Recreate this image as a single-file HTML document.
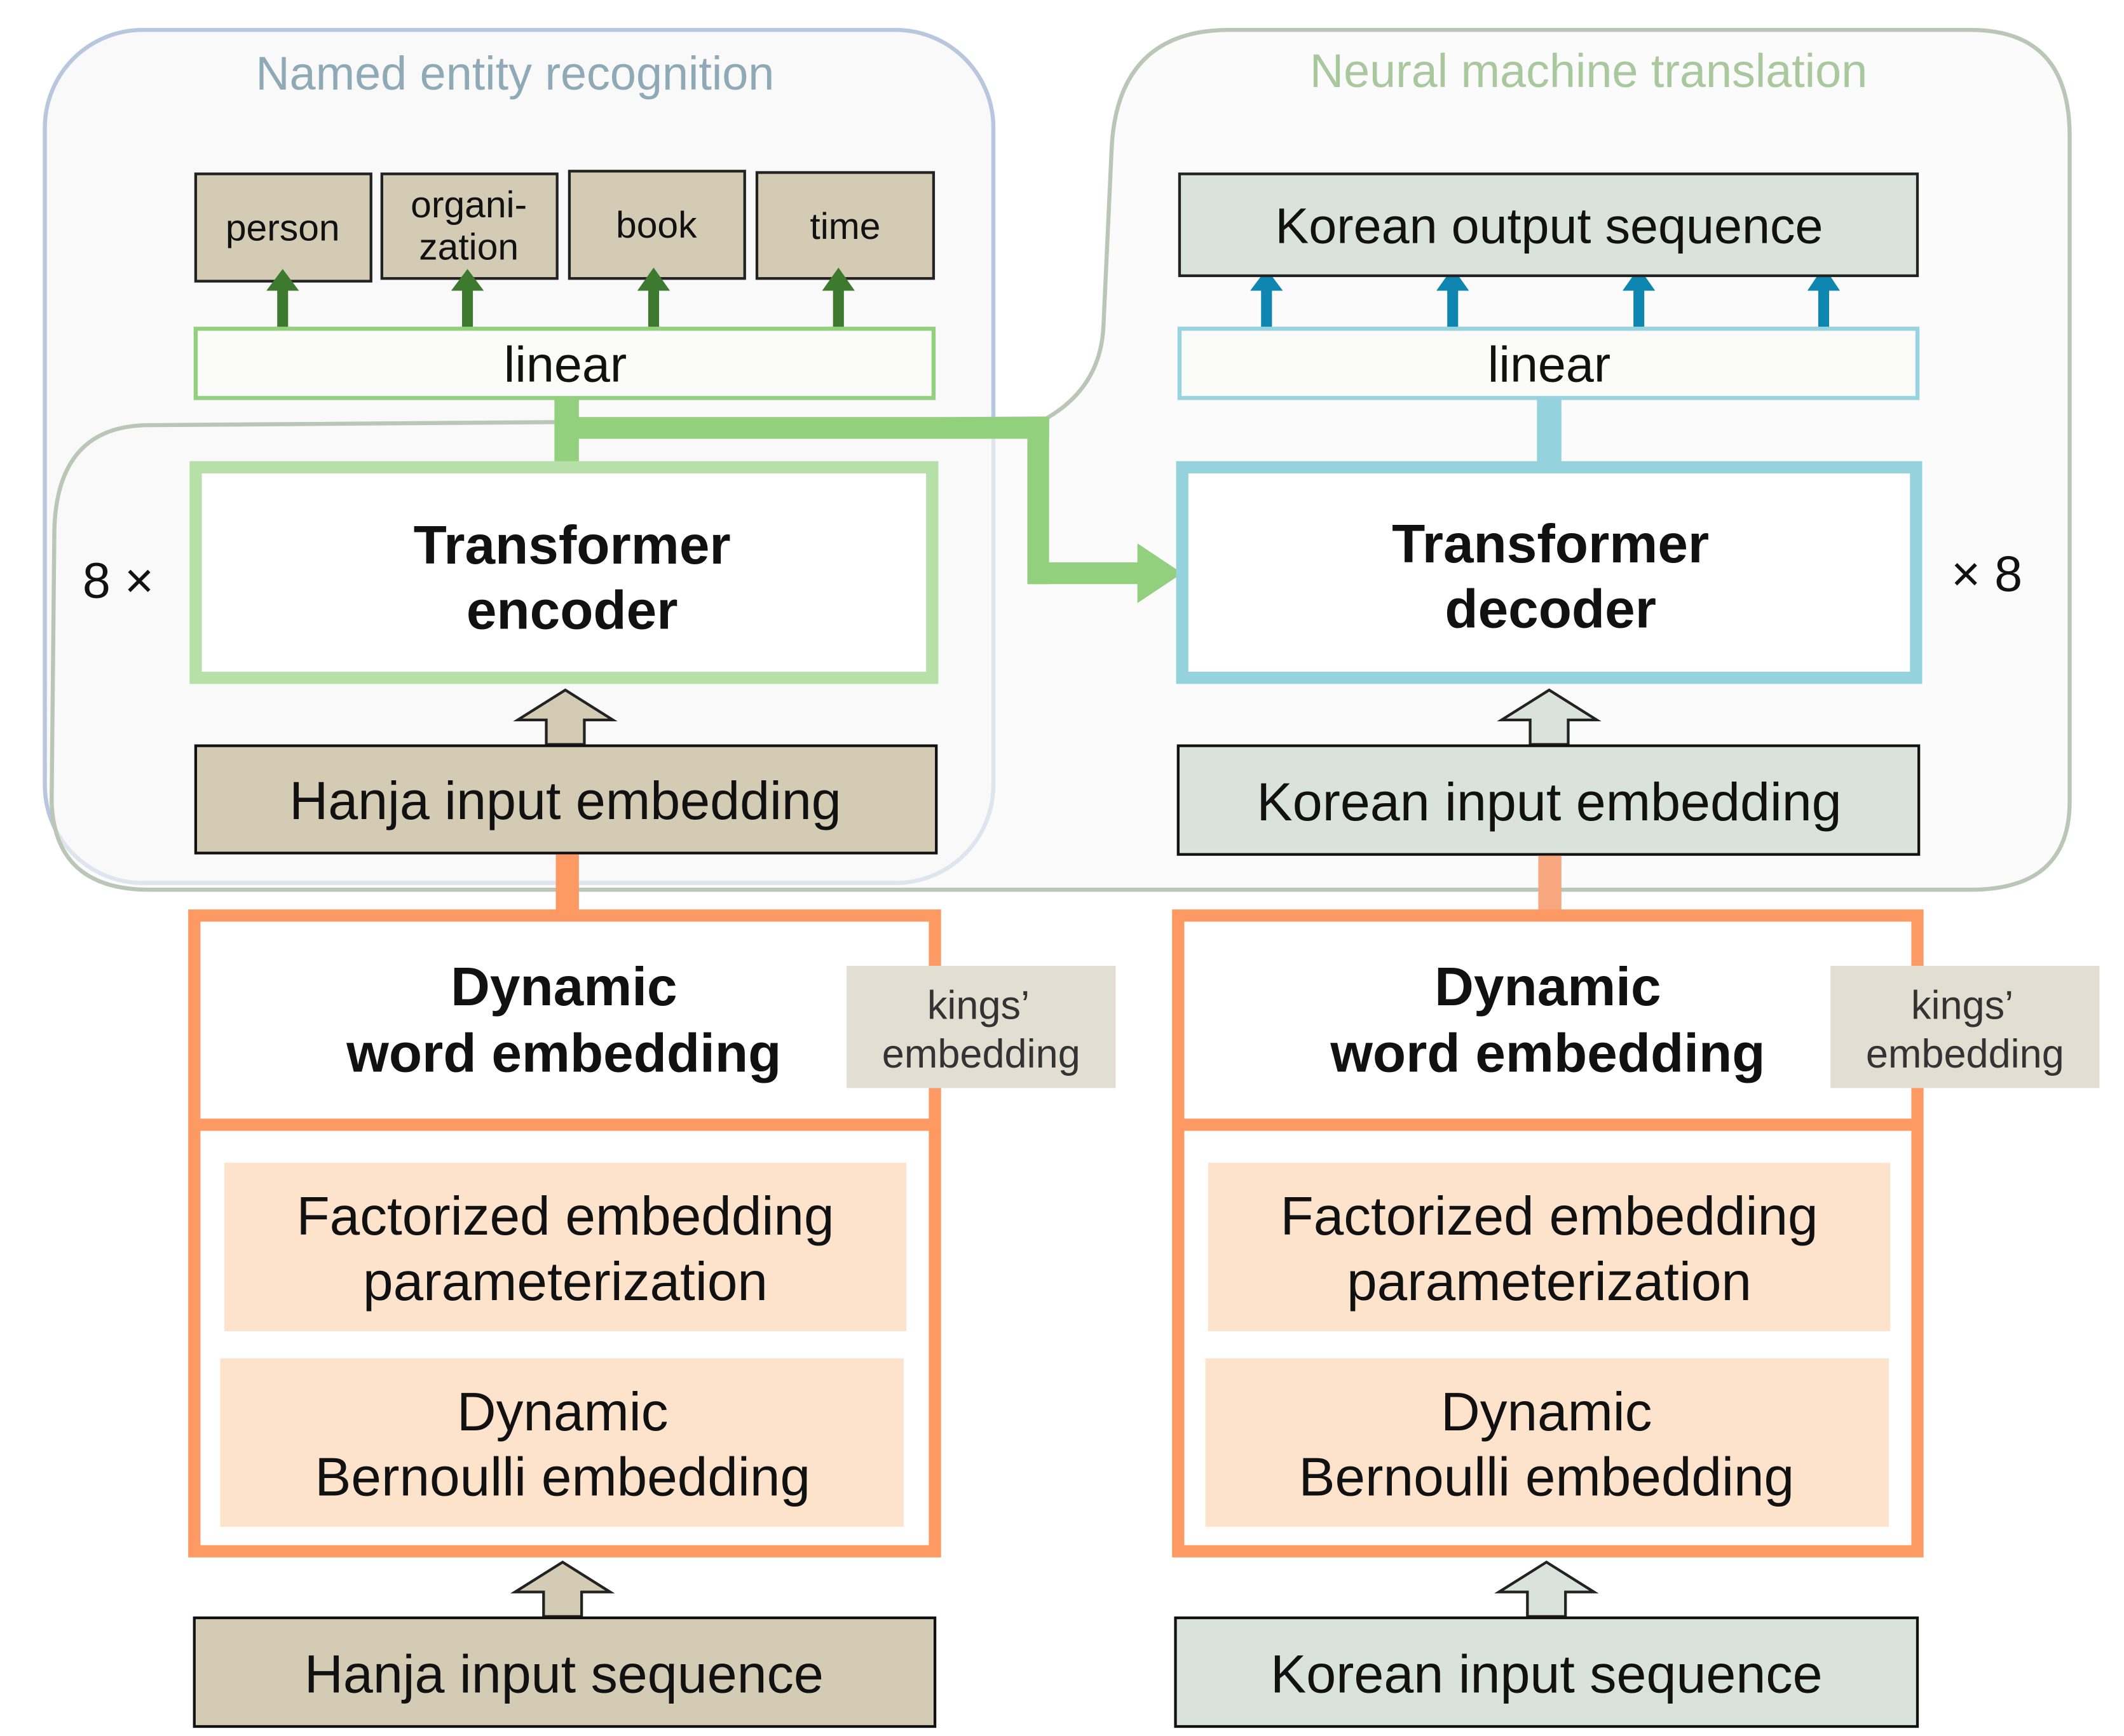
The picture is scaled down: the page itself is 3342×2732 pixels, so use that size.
<!DOCTYPE html>
<html><head><meta charset="utf-8"><style>html,body{margin:0;padding:0;background:#fff}svg{display:block}</style></head>
<body>
<svg width="3342" height="2732" viewBox="0 0 1563 1278" preserveAspectRatio="none" xmlns="http://www.w3.org/2000/svg" font-family="Liberation Sans, Arial, sans-serif">
<rect x="33" y="22" width="698" height="628" rx="72" fill="#f9f9f9" stroke="#b9c7de" stroke-width="3"/>
<path d="M38,590 L40,390 Q42,313 110,313 L770,308 Q810,285 812,240 L818,110 Q822,22 905,22 L1450,22 Q1523,22 1523,100 L1523,590 Q1523,655 1450,655 L110,655 Q40,655 38,590 Z" fill="#f9f9f9" fill-opacity="0.6" stroke="#bac6b6" stroke-width="3"/>
<text x="379" y="66" font-size="34.5" fill="#8faab6" text-anchor="middle">Named entity recognition</text>
<text x="1169" y="64" font-size="34.5" fill="#a9c89d" text-anchor="middle">Neural machine translation</text>

<g fill="#d4cbb5" stroke="#222" stroke-width="2">
<rect x="144" y="128" width="129" height="79"/><rect x="281" y="128" width="129" height="77"/>
<rect x="419" y="126" width="129" height="79"/><rect x="557" y="127" width="130" height="78"/>
</g>
<g font-size="27.5" text-anchor="middle" fill="#111">
<text x="208" y="177">person</text><text x="345" y="160">organi-</text><text x="345" y="191">zation</text>
<text x="483" y="175">book</text><text x="622" y="176">time</text>
</g>
<g fill="#3d7a2f">
<rect x="204" y="212" width="8" height="30"/><polygon points="196,214 208,198 220,214"/>
<rect x="340" y="212" width="8" height="30"/><polygon points="332,214 344,198 356,214"/>
<rect x="477" y="212" width="8" height="30"/><polygon points="469,214 481,197 493,214"/>
<rect x="613" y="212" width="8" height="30"/><polygon points="605,214 617,197 629,214"/>
</g>
<g fill="#0e86b0">
<rect x="928" y="212" width="8" height="30"/><polygon points="920,214 932,198 944,214"/>
<rect x="1065" y="212" width="8" height="30"/><polygon points="1057,214 1069,197 1081,214"/>
<rect x="1202" y="212" width="8" height="30"/><polygon points="1194,214 1206,197 1218,214"/>
<rect x="1338" y="212" width="8" height="30"/><polygon points="1330,214 1342,196 1354,214"/>
</g>
<rect x="144" y="242" width="543" height="51" fill="#fbfbf9" stroke="#93d07e" stroke-width="3"/>
<text x="416" y="281" font-size="37" text-anchor="middle" fill="#111">linear</text>
<rect x="868" y="242" width="543" height="51" fill="#fbfbf9" stroke="#9ad3e0" stroke-width="3"/>
<text x="1140" y="281" font-size="37" text-anchor="middle" fill="#111">linear</text>

<rect x="1131" y="294" width="18" height="48" fill="#94d3de"/>
<g fill="#93d07e">
<rect x="408" y="294" width="18" height="48"/>
<rect x="417" y="307" width="355" height="16"/>
<rect x="756" y="307" width="16" height="123"/>
<rect x="756" y="414" width="84" height="16"/>
<polygon points="837,400 870,422 837,444"/>
</g>
<rect x="144" y="344" width="542" height="155" fill="#fff" stroke="#b7e0a8" stroke-width="9"/>
<text x="421" y="415" font-size="40" font-weight="bold" text-anchor="middle" fill="#111">Transformer</text>
<text x="421" y="463" font-size="40" font-weight="bold" text-anchor="middle" fill="#111">encoder</text>
<text x="87" y="440" font-size="37" text-anchor="middle" fill="#111">8 ×</text>
<rect x="870" y="344" width="540" height="155" fill="#fff" stroke="#94d3de" stroke-width="9"/>
<text x="1141" y="414" font-size="40" font-weight="bold" text-anchor="middle" fill="#111">Transformer</text>
<text x="1141" y="462" font-size="40" font-weight="bold" text-anchor="middle" fill="#111">decoder</text>
<text x="1462" y="435" font-size="37" text-anchor="middle" fill="#111">× 8</text>

<polygon points="402,548 402,530 381,530 416,508 451,530 430,530 430,548" fill="#d4cbb5" stroke="#222" stroke-width="2"/>
<polygon points="1126,548 1126,530 1105,530 1140,508 1175,530 1154,530 1154,548" fill="#d9e2dc" stroke="#222" stroke-width="2"/>
<rect x="144" y="549" width="545" height="79" fill="#d4cbb5" stroke="#111" stroke-width="2"/>
<text x="416" y="603" font-size="39.5" text-anchor="middle" fill="#111">Hanja input embedding</text>
<rect x="867" y="549" width="545" height="80" fill="#d9e2dc" stroke="#111" stroke-width="2"/>
<text x="1140" y="604" font-size="39.5" text-anchor="middle" fill="#111">Korean input embedding</text>

<rect x="409" y="629" width="17" height="42" fill="#fd9a64"/>
<rect x="1132" y="630" width="17" height="41" fill="#f9a77f"/>

<g fill="#fff" stroke="#fd9a64" stroke-width="9">
<rect x="143" y="674" width="545" height="468"/><rect x="867" y="674" width="544" height="468"/>
</g>
<line x1="143" y1="828" x2="688" y2="828" stroke="#fd9a64" stroke-width="9"/>
<line x1="867" y1="828" x2="1411" y2="828" stroke="#fd9a64" stroke-width="9"/>
<g font-size="40" font-weight="bold" text-anchor="middle" fill="#111">
<text x="415" y="740">Dynamic</text><text x="415" y="789">word embedding</text>
<text x="1139" y="740">Dynamic</text><text x="1139" y="789">word embedding</text>
</g>
<rect x="623" y="711" width="198" height="90" fill="#e3ded2"/>
<rect x="1347" y="711" width="198" height="90" fill="#e3ded2"/>
<g font-size="29.5" text-anchor="middle" fill="#333">
<text x="720" y="750">kings’</text><text x="722" y="786">embedding</text>
<text x="1444" y="750">kings’</text><text x="1446" y="786">embedding</text>
</g>
<g fill="#fde3cc">
<rect x="165" y="856" width="502" height="124"/><rect x="162" y="1000" width="503" height="124"/>
<rect x="889" y="856" width="502" height="124"/><rect x="887" y="1000" width="503" height="124"/>
</g>
<g font-size="40" text-anchor="middle" fill="#111">
<text x="416" y="909">Factorized embedding</text><text x="416" y="957">parameterization</text>
<text x="414" y="1053">Dynamic</text><text x="414" y="1101">Bernoulli embedding</text>
<text x="1140" y="909">Factorized embedding</text><text x="1140" y="957">parameterization</text>
<text x="1138" y="1053">Dynamic</text><text x="1138" y="1101">Bernoulli embedding</text>
</g>
<polygon points="400,1190 400,1172 379,1172 414,1150 449,1172 428,1172 428,1190" fill="#d4cbb5" stroke="#222" stroke-width="2"/>
<polygon points="1124,1190 1124,1172 1103,1172 1138,1150 1173,1172 1152,1172 1152,1190" fill="#d9e2dc" stroke="#222" stroke-width="2"/>
<rect x="143" y="1191" width="545" height="80" fill="#d4cbb5" stroke="#111" stroke-width="2"/>
<text x="415" y="1246" font-size="39.5" text-anchor="middle" fill="#111">Hanja input sequence</text>
<rect x="865" y="1191" width="546" height="80" fill="#d9e2dc" stroke="#111" stroke-width="2"/>
<text x="1138" y="1246" font-size="39.5" text-anchor="middle" fill="#111">Korean input sequence</text>
<rect x="868" y="128" width="543" height="75" fill="#d9e2dc" stroke="#222" stroke-width="2"/>
<text x="1140" y="179" font-size="37" text-anchor="middle" fill="#111">Korean output sequence</text>
</svg>
</body></html>
